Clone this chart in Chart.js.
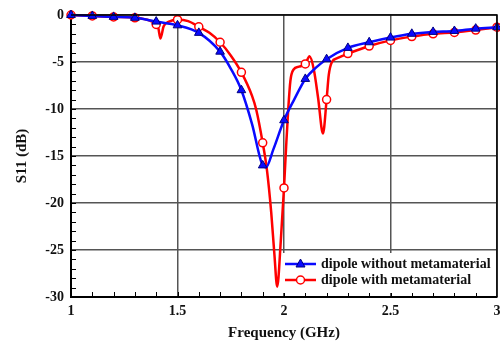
<!DOCTYPE html>
<html>
<head>
<meta charset="utf-8">
<script src="https://cdn.jsdelivr.net/npm/chart.js@4/dist/chart.umd.min.js"></script>
<style>
html, body { margin: 0; padding: 0; background: #fff; }
#myChart { display: block; }
</style>
</head>
<body>
<canvas id="myChart" width="500" height="345"></canvas>
<script>
// marker positions (every 0.1 GHz)
const freqMarks = [1.0, 1.1, 1.2, 1.3, 1.4, 1.5, 1.6, 1.7, 1.8, 1.9, 2.0, 2.1, 2.2, 2.3, 2.4, 2.5, 2.6, 2.7, 2.8, 2.9, 3.0];
const blueMarks = [0, -0.1, -0.2, -0.3, -0.7, -1.1, -1.9, -3.9, -8.0, -16.0, -11.2, -6.8, -4.7, -3.5, -2.9, -2.4, -2.0, -1.8, -1.7, -1.45, -1.3];
const redMarks = [0, -0.1, -0.2, -0.3, -1.0, -0.5, -1.25, -2.9, -6.1, -13.6, -18.4, -5.2, -9.0, -4.1, -3.3, -2.7, -2.3, -2.0, -1.85, -1.6, -1.3];

// curves
const blueCurveF = [1.0, 1.1, 1.2, 1.3, 1.4, 1.5, 1.6, 1.7, 1.75, 1.8, 1.85, 1.9, 1.915, 1.95, 2.0, 2.05, 2.1, 2.15, 2.2, 2.3, 2.4, 2.5, 2.6, 2.7, 2.8, 2.9, 3.0];
const blueCurveS = [0, -0.1, -0.2, -0.3, -0.7, -1.1, -1.9, -3.9, -5.7, -8.0, -11.6, -16.0, -16.2, -14.3, -11.2, -8.9, -6.8, -5.6, -4.7, -3.5, -2.9, -2.4, -2.0, -1.8, -1.7, -1.45, -1.3];

const redCurveF = [1.0, 1.1, 1.2, 1.3, 1.37, 1.4, 1.41, 1.42, 1.435, 1.46, 1.5, 1.55, 1.6, 1.65, 1.7, 1.75, 1.8, 1.85, 1.87, 1.9, 1.92, 1.94, 1.955, 1.968, 1.985, 2.0, 2.01, 2.02, 2.03, 2.045, 2.07, 2.1, 2.12, 2.14, 2.16, 2.183, 2.2, 2.21, 2.225, 2.25, 2.3, 2.35, 2.4, 2.5, 2.6, 2.7, 2.8, 2.9, 3.0];
const redCurveS = [0, -0.1, -0.2, -0.3, -0.6, -1.0, -1.4, -2.5, -1.2, -0.7, -0.5, -0.65, -1.25, -1.9, -2.9, -4.3, -6.1, -8.6, -10.1, -13.6, -16.5, -21, -25.5, -28.9, -24, -18.4, -14, -10, -7, -5.8, -5.5, -5.2, -4.4, -5.8, -8.8, -12.6, -9.0, -6.4, -5.0, -4.6, -4.1, -3.7, -3.3, -2.7, -2.3, -2.0, -1.85, -1.6, -1.3];

const legendLabels = ['dipole without metamaterial', 'dipole with metamaterial'];

const BLUE = '#0a0aff';
const RED = '#ff0000';
const serif = "'Liberation Serif', 'Times New Roman', serif";

const toXY = (xs, ys) => xs.map((x, i) => ({x: x, y: ys[i]}));

// inside minor ticks, top/right frame, and legend box
const framePlugin = {
id: 'frame',
afterDatasetsDraw(chart) {
const ctx = chart.ctx;
const a = chart.chartArea;
const xs = chart.scales.x, ys = chart.scales.y;
ctx.save();
ctx.strokeStyle = '#000';
ctx.lineWidth = 1;
for (let i = 1; i < 20; i++) {
let px = Math.round(xs.getPixelForValue(1 + i * 0.1)) + 0.5;
ctx.beginPath();
ctx.moveTo(px, a.bottom);
ctx.lineTo(px, a.bottom - 5);
ctx.stroke();
}
for (let v = -29; v < 0; v++) {
let py = Math.round(ys.getPixelForValue(v)) + 0.5;
ctx.beginPath();
ctx.moveTo(a.left, py);
ctx.lineTo(a.left + 5, py);
ctx.stroke();
}
ctx.lineWidth = 1.5;
ctx.beginPath();
ctx.moveTo(a.left, a.top);
ctx.lineTo(a.right, a.top);
ctx.lineTo(a.right, a.bottom);
ctx.stroke();
ctx.restore();
},
afterDraw(chart) {
const ctx = chart.ctx;
ctx.save();
ctx.fillStyle = '#fff';
ctx.fillRect(283, 253, 212, 40);
const rows = [
{y: 264, color: BLUE, text: legendLabels[0], tri: true},
{y: 280, color: RED, text: legendLabels[1], tri: false}
];
rows.forEach(r => {
ctx.strokeStyle = r.color;
ctx.lineWidth = 2.5;
ctx.beginPath();
ctx.moveTo(285, r.y);
ctx.lineTo(316, r.y);
ctx.stroke();
ctx.lineWidth = 1;
if (r.tri) {
ctx.fillStyle = BLUE;
ctx.strokeStyle = '#000080';
ctx.beginPath();
ctx.moveTo(300.5, r.y - 5);
ctx.lineTo(305, r.y + 3);
ctx.lineTo(296, r.y + 3);
ctx.closePath();
ctx.fill();
ctx.stroke();
} else {
ctx.fillStyle = '#fff';
ctx.strokeStyle = RED;
ctx.lineWidth = 1.5;
ctx.beginPath();
ctx.arc(300.5, r.y, 4, 0, Math.PI * 2);
ctx.fill();
ctx.stroke();
}
ctx.fillStyle = '#111';
ctx.font = 'bold 14px ' + serif;
ctx.textBaseline = 'middle';
ctx.fillText(r.text, 321, r.y);
});
ctx.restore();
}
};

const config = {
type: 'line',
data: {
datasets: [
{
data: toXY(freqMarks, blueMarks),
showLine: false,
pointStyle: 'triangle',
pointRadius: 5,
pointBackgroundColor: BLUE,
pointBorderColor: '#000080',
pointBorderWidth: 1,
clip: false,
order: 0
},
{
data: toXY(blueCurveF, blueCurveS),
borderColor: BLUE,
borderWidth: 2.5,
pointRadius: 0,
cubicInterpolationMode: 'monotone',
clip: false,
order: 1
},
{
data: toXY(freqMarks, redMarks),
showLine: false,
pointStyle: 'circle',
pointRadius: 4,
pointBackgroundColor: '#fff',
pointBorderColor: RED,
pointBorderWidth: 1.5,
clip: false,
order: 2
},
{
data: toXY(redCurveF, redCurveS),
borderColor: RED,
borderWidth: 2.5,
pointRadius: 0,
cubicInterpolationMode: 'monotone',
clip: false,
order: 3
}
]
},
options: {
responsive: false,
animation: false,
devicePixelRatio: 1,
layout: {autoPadding: false, padding: {left: 0, right: 3, top: 15, bottom: 0}},
plugins: {
legend: {display: false},
tooltip: {enabled: false}
},
scales: {
x: {
type: 'linear',
min: 1,
max: 3,
afterBuildTicks: s => { s.ticks = [1, 1.5, 2, 2.5, 3].map(v => ({value: v})); },
afterFit: s => { s.height = 48; s.paddingLeft = 0; s.paddingRight = 0; },
ticks: {
color: '#111',
font: {family: serif, size: 14, weight: 'bold'},
padding: 6,
maxRotation: 0,
callback: v => String(v)
},
grid: {color: '#555', lineWidth: 1.5, drawTicks: false},
border: {color: '#000', width: 2},
title: {
display: true,
text: 'Frequency (GHz)',
color: '#111',
font: {family: serif, size: 15, weight: 'bold'},
padding: {top: 0, bottom: 3}
}
},
y: {
type: 'linear',
min: -30,
max: 0,
afterBuildTicks: s => { s.ticks = [-30, -25, -20, -15, -10, -5, 0].map(v => ({value: v})); },
afterFit: s => { s.width = 71; s.paddingTop = 0; s.paddingBottom = 0; },
ticks: {
color: '#111',
font: {family: serif, size: 14, weight: 'bold'},
padding: 7
},
grid: {color: '#555', lineWidth: 1.5, drawTicks: false},
border: {color: '#000', width: 2},
title: {
display: true,
text: 'S11 (dB)',
color: '#111',
font: {family: serif, size: 15, weight: 'bold'},
padding: {top: 13, bottom: 0}
}
}
}
},
plugins: [framePlugin]
};

const myChart = new Chart(document.getElementById('myChart'), config);
</script>
</body>
</html>
